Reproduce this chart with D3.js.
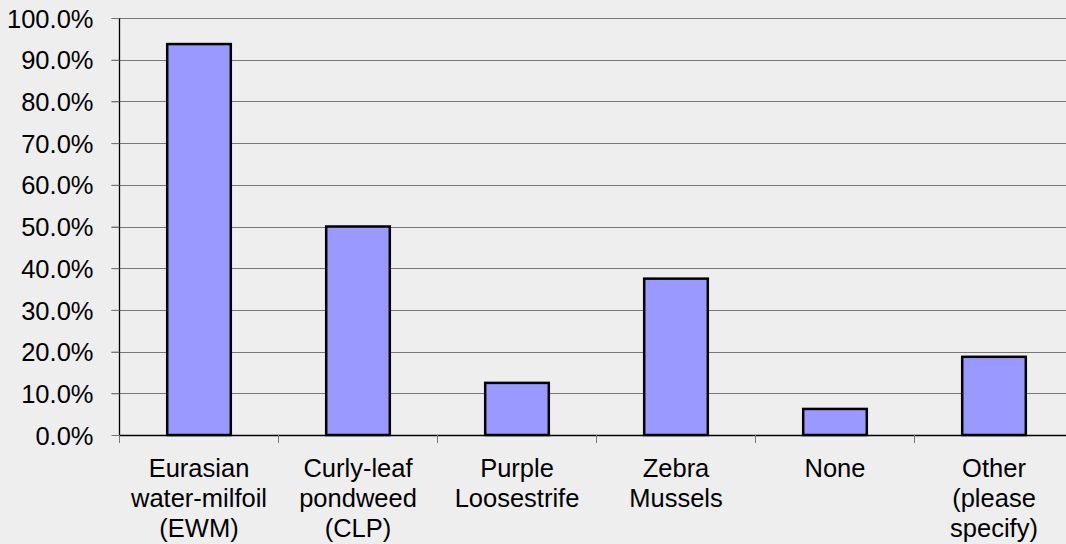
<!DOCTYPE html>
<html>
<head>
<meta charset="utf-8">
<script src="https://cdn.jsdelivr.net/npm/d3@7"></script>
<style>
  body { margin: 0; background: #eeeeee; }
  svg { display: block; font-family: "Liberation Sans", Arial, sans-serif; }
</style>
</head>
<body>
<div id="viz"></div>
<script>
// data (looks like n = 16 answers)
var categories = ['Eurasian water-milfoil (EWM)', 'Curly-leaf pondweed (CLP)', 'Purple Loosestrife',
                  'Zebra Mussels', 'None', 'Other (please specify)'];
var labelLines = [['Eurasian', 'water-milfoil', '(EWM)'],
                  ['Curly-leaf', 'pondweed', '(CLP)'],
                  ['Purple', 'Loosestrife'],
                  ['Zebra', 'Mussels'],
                  ['None'],
                  ['Other', '(please', 'specify)']];
var values = [0.9375, 0.5, 0.125, 0.375, 0.0625, 0.1875];
var yTicks = [0, 0.1, 0.2, 0.3, 0.4, 0.5, 0.6, 0.7, 0.8, 0.9, 1.0];

const w = 1066;
const h = 544;
const plotLeft = 119.5, plotTop = 18, plotBottom = 435;
const step = 159;
const fontSize = 25.5;

var svg = d3.select('#viz')
  .append('svg')
  .attr('width', w)
  .attr('height', h)

svg.append('rect').attr('width', w).attr('height', h).attr('fill', '#eeeeee')

var x = d3.scaleBand()
  .domain(categories)
  .range([plotLeft, plotLeft + step * categories.length])
  .paddingInner(0.6)
  .paddingOuter(0.3)

var y = d3.scaleLinear()
  .domain([0, 1])
  .range([plotBottom, plotTop])

// gridlines
svg.append('g')
  .selectAll('line')
  .data(yTicks.filter(d => d > 0))
  .enter()
  .append('line')
  .attr('x1', plotLeft - 8)
  .attr('x2', w)
  .attr('y1', d => Math.round(y(d)) + 0.5)
  .attr('y2', d => Math.round(y(d)) + 0.5)
  .attr('stroke', '#777')
  .attr('stroke-width', 1.2)

// y axis
var yAxis = svg.append('g')
  .attr('transform', 'translate(' + plotLeft + ',0)')
  .call(d3.axisLeft(y).tickValues(yTicks).tickFormat(d3.format('.1%')).tickSize(8).tickPadding(18))
yAxis.select('.domain').attr('stroke', '#000').attr('stroke-width', 1.3).attr('d', 'M0,' + plotTop + 'V' + plotBottom)
yAxis.selectAll('.tick line').attr('stroke', '#777')
yAxis.selectAll('.tick text')
  .attr('font-size', fontSize)
  .attr('font-family', '"Liberation Sans", Arial, sans-serif')
  .attr('fill', '#000')
  .attr('dy', '0.36em')

// bars
svg.append('g')
  .selectAll('rect')
  .data(values)
  .enter()
  .append('rect')
  .attr('x', (d, i) => x(categories[i]))
  .attr('y', d => y(d))
  .attr('width', x.bandwidth())
  .attr('height', d => plotBottom - y(d))
  .attr('fill', '#9999ff')
  .attr('stroke', '#000')
  .attr('stroke-width', 2.5)

// x axis
svg.append('line')
  .attr('x1', plotLeft).attr('x2', w)
  .attr('y1', plotBottom + 0.5).attr('y2', plotBottom + 0.5)
  .attr('stroke', '#000')
  .attr('stroke-width', 1.3)

var bounds = d3.range(categories.length + 1).map(i => plotLeft + i * x.step())
svg.append('g')
  .selectAll('line')
  .data(bounds)
  .enter()
  .append('line')
  .attr('x1', d => d).attr('x2', d => d)
  .attr('y1', plotBottom).attr('y2', plotBottom + 8)
  .attr('stroke', '#777')

var labels = svg.append('g')
  .selectAll('text')
  .data(labelLines)
  .enter()
  .append('text')
  .attr('text-anchor', 'middle')
  .attr('font-size', fontSize)
  .attr('fill', '#000')
  .attr('transform', (d, i) => 'translate(' + (x(categories[i]) + x.bandwidth() / 2) + ',477)')

labels.selectAll('tspan')
  .data(d => d)
  .enter()
  .append('tspan')
  .attr('x', 0)
  .attr('y', (d, i) => i * 30)
  .text(d => d)
</script>
</body>
</html>
